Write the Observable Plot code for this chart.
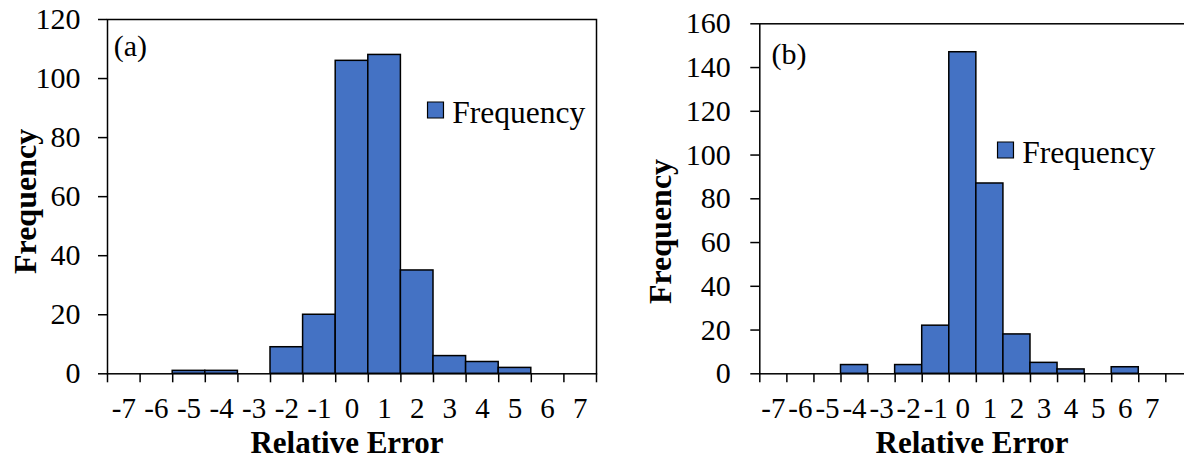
<!DOCTYPE html>
<html>
<head>
<meta charset="utf-8">
<script src="https://cdn.jsdelivr.net/npm/d3@7"></script>
<script src="https://cdn.jsdelivr.net/npm/@observablehq/plot@0.6"></script>
<style>
  html, body { margin: 0; padding: 0; background: white; overflow: hidden; }
  #wrap { position: relative; width: 1184px; height: 459px; overflow: hidden; background: white; }
  #wrap > div { position: absolute; top: 0; }
  #wrap svg { max-width: none !important; display: block; }
</style>
</head>
<body>
<div id="wrap"><div id="pa" style="left:0px; width:620px"></div><div id="pb" style="left:620px; width:580px"></div></div>
<script>
// ---- data ----
const bins = [-7, -6, -5, -4, -3, -2, -1, 0, 1, 2, 3, 4, 5, 6, 7];
const countsA = [0, 0, 1, 1, 0, 9, 20, 106, 108, 35, 6, 4, 2, 0, 0];
const countsB = [0, 0, 0, 4, 0, 4, 22, 147, 87, 18, 5, 2, 0, 3, 0];
const yTicksA = [0, 20, 40, 60, 80, 100, 120];
const yTicksB = [0, 20, 40, 60, 80, 100, 120, 140, 160];
const panelTags = ["(a)", "(b)"];
const seriesName = "Frequency";
const xTitle = "Relative Error";
const yTitle = "Frequency";

const BLUE = "#4472C4";
const FONT = "'Liberation Serif', 'Times New Roman', Times, serif";

function panel(o) {
  const data = bins.map((b, i) => ({bin: b, count: o.counts[i]}));
  const edges = [...bins.map(b => b - 0.5), bins[bins.length - 1] + 0.5];
  return Plot.plot({
    width: o.width,
    height: 459,
    marginLeft: o.ml, marginRight: o.mr, marginTop: o.mt, marginBottom: o.mb,
    style: {fontFamily: FONT, fontSize: "30px", color: "black", background: "white", overflow: "visible", maxWidth: "none"},
    x: {type: "linear", domain: o.xDomain},
    y: {domain: [0, o.yMax]},
    marks: [
      Plot.rectY(data.filter(d => d.count > 0), {
        x1: d => d.bin - 0.5, x2: d => d.bin + 0.5, y: "count",
        fill: BLUE, stroke: "black", strokeWidth: 1.5
      }),
      Plot.frame({stroke: "black", strokeWidth: 1.5}),
      Plot.axisY({ticks: o.yTicks, tickSize: 9, tickPadding: o.yPad, tickFormat: d => String(d), label: null, strokeWidth: 1.5}),
      Plot.axisX({ticks: edges, tickSize: 9, tickFormat: () => "", label: null, strokeWidth: 1.5}),
      Plot.axisX({ticks: bins, tickSize: 0, tickPadding: 24, tickFormat: d => String(d), label: null, fontSize: 29}),
      Plot.text([o.tag], {frameAnchor: "top-left", text: d => d, textAnchor: "start", lineAnchor: "middle",
        dx: o.tagDx, dy: o.tagDy, fontSize: 30}),
      Plot.dot([seriesName], {frameAnchor: "top-left", symbol: "square", r: 9, fill: BLUE, stroke: "black", strokeWidth: 1.2,
        dx: o.legDx, dy: o.legDy}),
      Plot.text([seriesName], {frameAnchor: "top-left", text: d => d, textAnchor: "start", lineAnchor: "middle",
        dx: o.legTx, dy: o.legTy, fontSize: 31.5}),
      Plot.text([yTitle], {frameAnchor: "left", text: d => d, rotate: -90, textAnchor: "middle", lineAnchor: "middle",
        dx: o.ytDx, dy: o.ytDy, fontSize: 32, fontWeight: "bold"}),
      Plot.text([xTitle], {frameAnchor: "bottom", text: d => d, textAnchor: "middle", lineAnchor: "middle",
        dx: o.xtDx, dy: 68.8, fontSize: 31, fontWeight: "bold"})
    ]
  });
}

document.getElementById("pa").appendChild(panel({
  counts: countsA, yMax: 120, yTicks: yTicksA, yPad: 18,
  width: 620, ml: 107, mr: 24, mt: 19, mb: 85.7,
  xDomain: [-7.5, 7.5],
  tag: panelTags[0], tagDx: 6.3, tagDy: 26.4,
  legDx: 328, legDy: 90.5, legTx: 344.7, legTy: 93,
  ytDx: -81.3, ytDy: 4.8, xtDx: -5
}));

document.getElementById("pb").appendChild(panel({
  counts: countsB, yMax: 160, yTicks: yTicksB, yPad: 20,
  width: 580, ml: 139.3, mr: 7.6, mt: 23.3, mb: 85.7,
  xDomain: [-7.5, 8.5],
  tag: panelTags[1], tagDx: 11.7, tagDy: 30.7,
  legDx: 245.7, legDy: 126.2, legTx: 262.4, legTy: 128.7,
  ytDx: -98.6, ytDy: 32.7, xtDx: -4.3
}));
</script>
</body>
</html>
